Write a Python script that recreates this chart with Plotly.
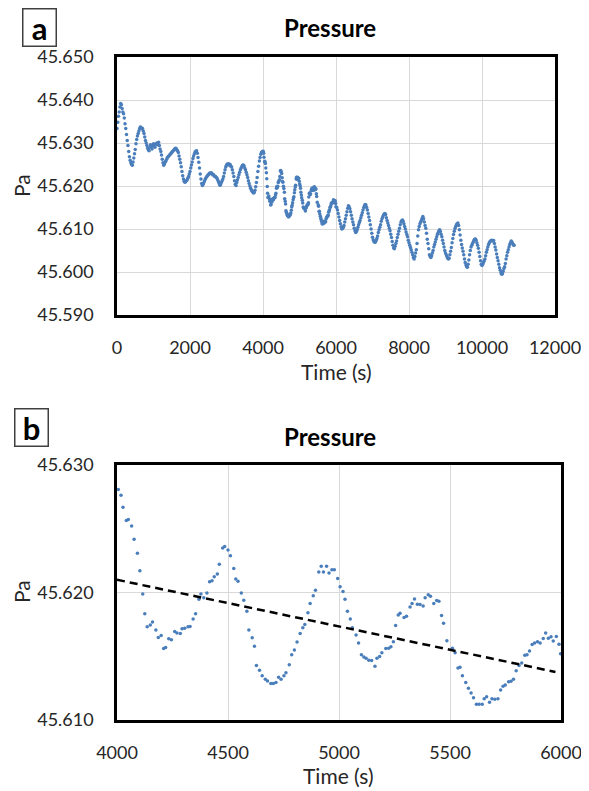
import plotly.graph_objects as go

# ---- data ----
# panel a, 0-3980 s, one reading every 20 s
seg1_start, seg1_step = 0, 20
seg1_pressure = [
    45.6334, 45.6348, 45.6362, 45.6372, 45.6384, 45.6392, 45.6389, 45.6380, 45.6372, 45.6368,
    45.6358, 45.6345, 45.6334, 45.6320, 45.6306, 45.6294, 45.6280, 45.6268, 45.6260, 45.6254,
    45.6250, 45.6248, 45.6256, 45.6265, 45.6275, 45.6285, 45.6298, 45.6308, 45.6316, 45.6322,
    45.6328, 45.6334, 45.6337, 45.6336, 45.6333, 45.6334, 45.6328, 45.6322, 45.6314, 45.6306,
    45.6300, 45.6294, 45.6288, 45.6284, 45.6282, 45.6290, 45.6296, 45.6292, 45.6286, 45.6294,
    45.6298, 45.6292, 45.6290, 45.6296, 45.6299, 45.6300, 45.6296, 45.6302, 45.6294, 45.6286,
    45.6280, 45.6272, 45.6262, 45.6254, 45.6248, 45.6252, 45.6256, 45.6258, 45.6262, 45.6266,
    45.6268, 45.6270, 45.6272, 45.6274, 45.6276, 45.6278, 45.6280, 45.6282, 45.6284, 45.6286,
    45.6288, 45.6287, 45.6284, 45.6282, 45.6278, 45.6270, 45.6262, 45.6254, 45.6245, 45.6234,
    45.6224, 45.6216, 45.6211, 45.6209, 45.6210, 45.6212, 45.6214, 45.6218, 45.6222, 45.6228,
    45.6234, 45.6242, 45.6249, 45.6256, 45.6264, 45.6270, 45.6275, 45.6279, 45.6281, 45.6282,
    45.6276, 45.6266, 45.6255, 45.6242, 45.6228, 45.6216, 45.6206, 45.6201, 45.6204, 45.6208,
    45.6212, 45.6216, 45.6219, 45.6222, 45.6224, 45.6226, 45.6228, 45.6230, 45.6229, 45.6231,
    45.6229, 45.6226, 45.6227, 45.6224, 45.6222, 45.6222, 45.6220, 45.6218, 45.6214, 45.6210,
    45.6206, 45.6202, 45.6203, 45.6208, 45.6212, 45.6216, 45.6222, 45.6230, 45.6238, 45.6244,
    45.6248, 45.6251, 45.6250, 45.6252, 45.6248, 45.6250, 45.6246, 45.6244, 45.6238, 45.6230,
    45.6222, 45.6212, 45.6204, 45.6201, 45.6208, 45.6214, 45.6220, 45.6226, 45.6232, 45.6238,
    45.6242, 45.6245, 45.6248, 45.6249, 45.6247, 45.6242, 45.6238, 45.6232, 45.6226, 45.6220,
    45.6212, 45.6206, 45.6200, 45.6195, 45.6191, 45.6188, 45.6186, 45.6184, 45.6185, 45.6190,
    45.6198, 45.6208, 45.6220, 45.6234, 45.6246, 45.6258, 45.6266, 45.6274, 45.6278, 45.6280,
]

# 4000-6000 s, every dot of panel b (also part of panel a)
zoom_time = [
    4006, 4018, 4027, 4042, 4051, 4066, 4077, 4092, 4103, 4116, 4125, 4136, 4150, 4160, 4175,
    4186, 4199, 4210, 4219, 4233, 4245, 4260, 4270, 4285, 4293, 4305, 4320, 4329, 4343, 4354,
    4369, 4378, 4391, 4405, 4417, 4428, 4438, 4452, 4461, 4476, 4485, 4500, 4511, 4526, 4535,
    4545, 4560, 4571, 4585, 4594, 4609, 4619, 4628, 4642, 4654, 4668, 4678, 4693, 4704, 4716,
    4728, 4739, 4752, 4761, 4776, 4787, 4799, 4811, 4825, 4837, 4846, 4860, 4870, 4884, 4894,
    4909, 4920, 4930, 4944, 4955, 4968, 4979, 4994, 5005, 5018, 5027, 5038, 5051, 5060, 5077,
    5088, 5101, 5112, 5122, 5134, 5147, 5162, 5171, 5183, 5193, 5211, 5224, 5234, 5245, 5255,
    5267, 5275, 5293, 5304, 5320, 5329, 5340, 5353, 5365, 5379, 5388, 5402, 5412, 5427, 5440,
    5450, 5462, 5471, 5486, 5511, 5523, 5536, 5545, 5556, 5571, 5583, 5595, 5606, 5619, 5631,
    5645, 5654, 5665, 5678, 5689, 5702, 5716, 5728, 5739, 5749, 5764, 5775, 5786, 5798, 5811,
    5823, 5837, 5847, 5858, 5870, 5881, 5894, 5906, 5920, 5931, 5943, 5955, 5965, 5979, 5991,
    5998,
]
zoom_pressure = [
    45.62808, 45.62763, 45.62668, 45.62565, 45.62573, 45.62521, 45.62418, 45.62308, 45.62171, 45.61989,
    45.61834, 45.61732, 45.61745, 45.61769, 45.61705, 45.61648, 45.61663, 45.61561, 45.61569, 45.61637,
    45.61629, 45.61695, 45.61682, 45.61679, 45.61716, 45.61719, 45.61732, 45.61734, 45.61792, 45.61834,
    45.61947, 45.61989, 45.61958, 45.61997, 45.62084, 45.62092, 45.62124, 45.62145, 45.62221, 45.62350,
    45.62360, 45.62334, 45.62289, 45.62189, 45.62105, 45.62089, 45.61997, 45.61940, 45.61853, 45.61705,
    45.61645, 45.61579, 45.61427, 45.61390, 45.61348, 45.61319, 45.61306, 45.61287, 45.61287, 45.61295,
    45.61335, 45.61319, 45.61348, 45.61371, 45.61434, 45.61511, 45.61550, 45.61611, 45.61679, 45.61724,
    45.61750, 45.61842, 45.61913, 45.61974, 45.62018, 45.62160, 45.62205, 45.62160, 45.62205, 45.62153,
    45.62179, 45.62179, 45.62110, 45.62045, 45.62008, 45.61947, 45.61853, 45.61792, 45.61724, 45.61666,
    45.61603, 45.61511, 45.61495, 45.61484, 45.61469, 45.61466, 45.61421, 45.61484, 45.61498, 45.61527,
    45.61561, 45.61563, 45.61574, 45.61613, 45.61742, 45.61824, 45.61837, 45.61803, 45.61813, 45.61887,
    45.61913, 45.61950, 45.61908, 45.61905, 45.61895, 45.61958, 45.61982, 45.61971, 45.61913, 45.61937,
    45.61932, 45.61819, 45.61758, 45.61621, 45.61563, 45.61527, 45.61408, 45.61413, 45.61348, 45.61295,
    45.61250, 45.61211, 45.61174, 45.61124, 45.61124, 45.61124, 45.61166, 45.61182, 45.61140, 45.61166,
    45.61163, 45.61166, 45.61235, 45.61264, 45.61274, 45.61300, 45.61303, 45.61319, 45.61387, 45.61427,
    45.61448, 45.61508, 45.61511, 45.61542, 45.61592, 45.61603, 45.61613, 45.61603, 45.61640, 45.61682,
    45.61642, 45.61653, 45.61619, 45.61655, 45.61595, 45.61519,
]

# panel a, 6020-10880 s, one reading every 20 s
seg2_start, seg2_step = 6020, 20
seg2_pressure = [
    45.6150, 45.6144, 45.6136, 45.6128, 45.6120, 45.6112, 45.6105, 45.6100, 45.6101, 45.6104,
    45.6108, 45.6116, 45.6124, 45.6132, 45.6140, 45.6148, 45.6154, 45.6152, 45.6147, 45.6140,
    45.6132, 45.6124, 45.6116, 45.6110, 45.6102, 45.6096, 45.6092, 45.6094, 45.6098, 45.6104,
    45.6110, 45.6115, 45.6120, 45.6126, 45.6132, 45.6138, 45.6144, 45.6150, 45.6154, 45.6157,
    45.6156, 45.6150, 45.6144, 45.6136, 45.6128, 45.6120, 45.6110, 45.6100, 45.6090, 45.6081,
    45.6075, 45.6071, 45.6069, 45.6070, 45.6073, 45.6078, 45.6084, 45.6092, 45.6098, 45.6104,
    45.6110, 45.6118, 45.6124, 45.6128, 45.6132, 45.6135, 45.6136, 45.6134, 45.6126, 45.6120,
    45.6114, 45.6108, 45.6102, 45.6096, 45.6088, 45.6080, 45.6071, 45.6062, 45.6056, 45.6054,
    45.6060, 45.6066, 45.6072, 45.6080, 45.6088, 45.6095, 45.6102, 45.6110, 45.6116, 45.6119,
    45.6121, 45.6118, 45.6112, 45.6106, 45.6100, 45.6093, 45.6087, 45.6082, 45.6074, 45.6068,
    45.6062, 45.6057, 45.6052, 45.6046, 45.6040, 45.6034, 45.6030, 45.6036, 45.6044, 45.6052,
    45.6066, 45.6084, 45.6098, 45.6106, 45.6112, 45.6116, 45.6120, 45.6125, 45.6129, 45.6124,
    45.6116, 45.6108, 45.6102, 45.6090, 45.6076, 45.6066, 45.6054, 45.6040, 45.6036, 45.6034,
    45.6038, 45.6044, 45.6050, 45.6058, 45.6064, 45.6070, 45.6076, 45.6082, 45.6088, 45.6092,
    45.6096, 45.6098, 45.6094, 45.6088, 45.6082, 45.6074, 45.6066, 45.6058, 45.6050, 45.6044,
    45.6040, 45.6036, 45.6032, 45.6030, 45.6032, 45.6040, 45.6048, 45.6057, 45.6068, 45.6078,
    45.6087, 45.6095, 45.6101, 45.6106, 45.6110, 45.6112, 45.6114, 45.6108, 45.6098, 45.6086,
    45.6074, 45.6064, 45.6056, 45.6048, 45.6040, 45.6030, 45.6022, 45.6016, 45.6012, 45.6011,
    45.6018, 45.6028, 45.6040, 45.6050, 45.6058, 45.6062, 45.6066, 45.6070, 45.6074, 45.6076,
    45.6077, 45.6074, 45.6068, 45.6062, 45.6055, 45.6046, 45.6036, 45.6026, 45.6018, 45.6015,
    45.6018, 45.6022, 45.6026, 45.6030, 45.6038, 45.6046, 45.6052, 45.6058, 45.6064, 45.6068,
    45.6071, 45.6072, 45.6074, 45.6073, 45.6072, 45.6073, 45.6066, 45.6058, 45.6051, 45.6042,
    45.6034, 45.6026, 45.6018, 45.6010, 45.6004, 45.5998, 45.5995, 45.5996, 45.6002, 45.6008,
    45.6012, 45.6020, 45.6030, 45.6038, 45.6046, 45.6052, 45.6058, 45.6064, 45.6068, 45.6072,
    45.6070, 45.6066, 45.6063, 45.6062,
]

# dashed linear trend of panel b (end points)
trend_time = [4000, 5975]
trend_pressure = [45.6210, 45.61377]

xticks_a = [0, 2000, 4000, 6000, 8000, 10000, 12000]
yticks_a = [45.590, 45.600, 45.610, 45.620, 45.630, 45.640, 45.650]
xticks_b = [4000, 4500, 5000, 5500, 6000]
yticks_b = [45.610, 45.620, 45.630]

seg1_time = [seg1_start + i * seg1_step for i in range(len(seg1_pressure))]
seg2_time = [seg2_start + i * seg2_step for i in range(len(seg2_pressure))]
assert seg1_time[-1] == 3980 and seg2_time[-1] == 10880
assert len(zoom_time) == len(zoom_pressure)

time_a = seg1_time + zoom_time + seg2_time
press_a = seg1_pressure + zoom_pressure + seg2_pressure

# ---- figure ----
# the page body keeps its default 8px margin, so the figure sits 8px in
OFF = 8
W, H = 589 - OFF, 791 - OFF
BLUE = "#4A7EBB"
FONT = "Lato"
TXT = "#262626"


def px(x, y):
    # page pixel -> paper fraction
    return (x - OFF) / W, 1 - (y - OFF) / H


def xdom(left, right):
    return [px(left, 0)[0], px(right, 0)[0]]


def ydom(top, bottom):
    return [px(0, bottom)[1], px(0, top)[1]]


fig = go.Figure()
fig.add_trace(go.Scatter(x=time_a, y=press_a, mode="markers",
                         marker=dict(size=3.5, color=BLUE), xaxis="x", yaxis="y"))
fig.add_trace(go.Scatter(x=zoom_time, y=zoom_pressure, mode="markers",
                         marker=dict(size=3.5, color=BLUE), xaxis="x2", yaxis="y2"))
fig.add_trace(go.Scatter(x=trend_time, y=trend_pressure, mode="lines",
                         line=dict(color="black", width=2.5, dash="8px,5px"),
                         xaxis="x2", yaxis="y2"))

axis_style = dict(showgrid=True, gridcolor="#d9d9d9", gridwidth=1, zeroline=False,
                  showline=True, mirror=True, linecolor="black", linewidth=2.5,
                  ticks="", tickfont=dict(family=FONT, size=18, color=TXT),
                  automargin=False, fixedrange=True)

fig.update_layout(
    width=W, height=H,
    margin=dict(l=0, r=0, t=0, b=0),
    paper_bgcolor="white", plot_bgcolor="white",
    showlegend=False,
    xaxis=dict(domain=xdom(117, 555), range=[0, 12000], tickvals=xticks_a,
               tickformat="d", anchor="y", ticklabelstandoff=15, **axis_style),
    yaxis=dict(domain=ydom(57, 315), range=[45.590, 45.650], tickvals=yticks_a,
               tickformat=".3f", anchor="x", ticklabelstandoff=17, **axis_style),
    xaxis2=dict(domain=xdom(117, 561), range=[4000, 6000], tickvals=xticks_b,
                tickformat="d", anchor="y2", ticklabelstandoff=15, **axis_style),
    yaxis2=dict(domain=ydom(465, 720), range=[45.610, 45.630], tickvals=yticks_b,
                tickformat=".3f", anchor="x2", ticklabelstandoff=17, **axis_style),
)

title_font = dict(family=FONT, size=24, color="black", weight=700)
label_font = dict(family=FONT, size=21, color=TXT)
notes = [
    ("Pressure", 330, 28, title_font, 0),
    ("Pressure", 330, 437, title_font, 0),
    ("Time (s)", 336, 371, label_font, 0),
    ("Time (s)", 338, 775, label_font, 0),
    ("Pa", 21, 186, label_font, -90),
    ("Pa", 21, 592, label_font, -90),
]
for text, x, y, font, angle in notes:
    ax, ay = px(x, y)
    fig.add_annotation(text=text, x=ax, y=ay, xref="paper", yref="paper",
                       xanchor="center", yanchor="middle", showarrow=False,
                       font=font, textangle=angle)

# boxed panel letters
for letter, x, y in [("a", 39.7, 28), ("b", 31.2, 427)]:
    ax, ay = px(x, y)
    fig.add_annotation(text=letter, x=ax, y=ay, xref="paper", yref="paper",
                       xanchor="center", yanchor="middle", showarrow=False,
                       font=dict(family=FONT, size=31, color="black", weight=700),
                       width=30, height=34, borderpad=1, borderwidth=1.5,
                       bordercolor="#404040", bgcolor="white")

fig.write_html("out.html")
